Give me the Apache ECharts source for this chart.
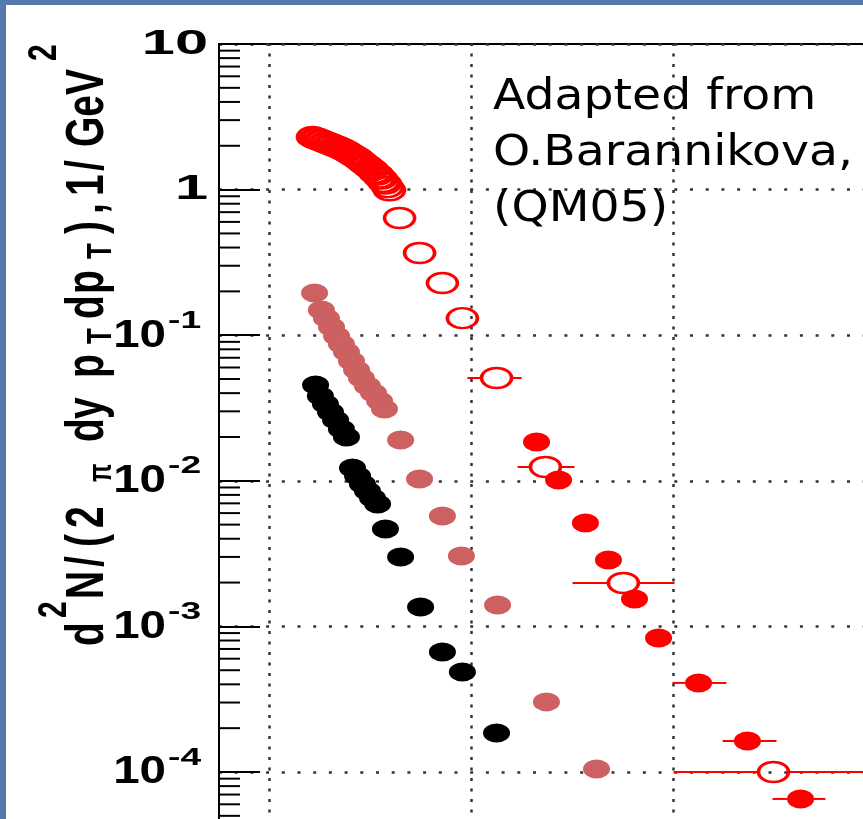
<!DOCTYPE html>
<html><head><meta charset="utf-8">
<script src="https://cdn.jsdelivr.net/npm/echarts@6/dist/echarts.min.js"></script>
<style>
html,body{margin:0;padding:0;width:863px;height:819px;overflow:hidden;background:#5479aa;}
#panel{position:absolute;left:6px;top:5px;width:857px;height:814px;background:#fff;overflow:hidden;}
#chart{position:absolute;left:0;top:0;width:1000px;height:1000px;}
</style></head><body>
<div id="panel"><div id="chart"></div></div>
<script>
// ---------------- data ----------------
const redOpen = [
  [1.213,2.30],[1.225,2.25],[1.238,2.24],[1.250,2.18],[1.262,2.17],[1.275,2.11],[1.287,2.10],
  [1.300,2.05],[1.312,2.03],[1.324,1.98],[1.337,1.97],[1.349,1.92],[1.361,1.90],[1.374,1.85],
  [1.386,1.82],[1.399,1.76],[1.411,1.73],[1.423,1.68],[1.436,1.65],[1.448,1.59],[1.460,1.55],
  [1.473,1.49],[1.485,1.46],[1.498,1.40],[1.510,1.37],[1.522,1.30],[1.535,1.27],[1.545,1.21],
  [1.554,1.19],[1.564,1.13],[1.574,1.10],[1.584,1.04],[1.594,0.99],
  [1.644,0.638],[1.743,0.367],[1.856,0.228],[1.955,0.131],[2.124,0.0508],[2.366,0.01244],
  [2.752,0.001986],[3.495,0.0001]
];
const redOpenXErr = [[37,1.980,2.248],[38,2.228,2.510],[39,2.500,3.005],[40,3.0,4.3]];
const redFilled = [
  [2.322,0.01847],[2.431,0.01013],[2.564,0.00513],[2.678,0.002858],[2.807,0.001543],
  [2.926,0.000832],[3.124,0.000409],[3.366,0.0001633],[3.629,0.0000653]
];
const redFilledXErr = [[6,2.995,3.262],[7,3.243,3.510],[8,3.490,3.752]];
const salmon = [
  [1.223,0.195],[1.257,0.149],[1.282,0.131],[1.307,0.1138],[1.332,0.0988],[1.356,0.0870],
  [1.381,0.0766],[1.406,0.0665],[1.431,0.0577],[1.455,0.0508],[1.485,0.0448],[1.515,0.0401],
  [1.545,0.0353],[1.569,0.0311],[1.649,0.01906],[1.743,0.01029],[1.856,0.00573],
  [1.950,0.003045],[2.129,0.001403],[2.371,0.000303],[2.619,0.0001048]
];
const black = [
  [1.228,0.0455],[1.252,0.0382],[1.277,0.0337],[1.302,0.0297],[1.327,0.0262],[1.356,0.0227],
  [1.381,0.0200],[1.411,0.01224],[1.436,0.01079],[1.460,0.00951],[1.485,0.00851],[1.510,0.00762],
  [1.535,0.00693],[1.574,0.00467],[1.649,0.002996],[1.748,0.001359],[1.856,0.000667],
  [1.955,0.000486],[2.124,0.0001853]
];
const xGridValues = [1, 2, 3, 4];
const yTickValues = [10, 1, 0.1, 0.01, 0.001, 0.0001];
const yTickBase = ['10', '1', '10', '10', '10', '10'];
const yTickExp = ['', '', '-1', '-2', '-3', '-4'];
const yTitleParts = ['d', '2', 'N', '/', '(', '2', 'π', 'd', 'y', 'p', 'T', 'd', 'p', 'T', ')', ',', '1', '/', 'GeV', '2'];
const annotation = 'Adapted from\nO.Barannikova,\n(QM05)';

// ---------------- layout / style ----------------
const OX = 6, OY = 5; // panel offset in the page
const X_MIN = 0.75, X_MAX = 4.5, Y_MIN = 1e-5, Y_MAX = 10;
const MINOR_LEN = 21;
const OPEN_HW = 16, FILLED_HW = 13;
const ELLIPSE = 'path://M0,50A50,50,0,1,1,100,50A50,50,0,1,1,0,50Z';
const FONT = 'Liberation Sans, Arial, Helvetica, sans-serif';
// title part layout: [page y where the part starts (bottom end), kind]
const yTitleLayout = [
  [646, 'b'], [618, 'sup1'], [599, 'b'], [567, 'b'], [547, 'b'], [528, 'b'], [482, 'pi'],
  [442, 'b'], [419, 'b'], [378, 'b'], [344, 'sub'], [319, 'b'], [294, 'b'], [259, 'sub'],
  [234, 'b'], [214, 'b'], [196, 'b'], [171, 'b'], [147, 'b'], [61, 'sup2']
];
const TITLE_STYLE = {
  b:    { size: 39, x: 88 },
  sup1: { size: 30, x: 55 },
  sup2: { size: 30, x: 45 },
  sub:  { size: 26, x: 101 },
  pi:   { size: 24, x: 102 }
};
const TITLE_SCALE = 1.36;

const minorVals = [];
for (let e = -5; e < 1; e++) for (let k = 2; k <= 9; k++) minorVals.push(+(k * Math.pow(10, e)).toPrecision(3));

function errData(pts, errs) { return errs.map(([i, lo, hi]) => [pts[i][0], pts[i][1], lo, hi]); }
function errRender(hw) {
  return function (params, api) {
    const y = api.value(1);
    const c = api.coord([api.value(0), y]);
    const l = api.coord([api.value(2), y]);
    const h = api.coord([api.value(3), y]);
    return { type: 'group', children: [
      { type: 'line', shape: { x1: l[0], y1: c[1], x2: c[0] - hw, y2: c[1] }, style: { stroke: '#ff0000', lineWidth: 2 } },
      { type: 'line', shape: { x1: c[0] + hw, y1: c[1], x2: h[0], y2: c[1] }, style: { stroke: '#ff0000', lineWidth: 2 } }
    ] };
  };
}

const chart = echarts.init(document.getElementById('chart'), null, { renderer: 'canvas' });
chart.setOption({
  animation: false,
  grid: { left: 213, top: 39, width: 757.5, height: 873.6, outerBoundsMode: 'none', containLabel: false,
          show: true, borderColor: '#000', borderWidth: 2, backgroundColor: '#fff' },
  xAxis: { type: 'value', min: X_MIN, max: X_MAX, axisLine: { show: false }, axisTick: { show: false }, axisLabel: { show: false }, splitLine: { show: false } },
  yAxis: {
    type: 'log', logBase: 10, min: Y_MIN, max: Y_MAX,
    axisLine: { show: true, lineStyle: { color: '#000', width: 2 } },
    axisTick: { show: true, inside: true, length: 41, lineStyle: { color: '#000', width: 2 } },
    axisLabel: { show: false },
    splitLine: { show: true, lineStyle: { color: '#333', width: 2.5, type: [3, 12.7] } }
  },
  series: [
    {
      type: 'custom', coordinateSystem: 'cartesian2d', silent: true, z: 3,
      data: minorVals.map(v => [X_MIN, v]),
      renderItem: function (params, api) {
        const p = api.coord([X_MIN, api.value(1)]);
        return { type: 'line', shape: { x1: p[0], y1: p[1], x2: p[0] + MINOR_LEN, y2: p[1] }, style: { stroke: '#000', lineWidth: 2 } };
      },
      markLine: {
        silent: true, symbol: ['none', 'none'], label: { show: false },
        lineStyle: { type: [3, 7.5], color: '#333', width: 2.5 },
        data: xGridValues.map(v => ({ xAxis: v }))
      }
    },
    { type: 'custom', coordinateSystem: 'cartesian2d', silent: true, z: 4, encode: { x: [0, 2, 3], y: 1 }, data: errData(redOpen, redOpenXErr), renderItem: errRender(OPEN_HW) },
    { type: 'custom', coordinateSystem: 'cartesian2d', silent: true, z: 4, encode: { x: [0, 2, 3], y: 1 }, data: errData(redFilled, redFilledXErr), renderItem: errRender(FILLED_HW) },
    { type: 'scatter', z: 5, data: black, symbol: ELLIPSE, symbolSize: [27, 19], itemStyle: { color: '#000', opacity: 1 } },
    { type: 'scatter', z: 5, data: salmon, symbol: ELLIPSE, symbolSize: [27, 19], itemStyle: { color: '#cd6060', opacity: 1 } },
    { type: 'scatter', z: 6, data: redOpen, symbol: ELLIPSE, symbolSize: [30, 20], itemStyle: { color: 'rgba(0,0,0,0)', borderColor: '#ff0000', borderWidth: 3, opacity: 1 } },
    { type: 'scatter', z: 7, data: redFilled, symbol: ELLIPSE, symbolSize: [27, 19], itemStyle: { color: '#ff0000', opacity: 1 } }
  ]
});

// ---------------- texts (tick labels positioned through the axis scale) ----------------
const graphics = [];
yTickValues.forEach((v, i) => {
  const y = chart.convertToPixel({ yAxisIndex: 0 }, v);
  if (!yTickExp[i]) {
    graphics.push({ type: 'text', x: 208 - OX, y: y, scaleX: 1.7, silent: true,
      style: { text: yTickBase[i], fill: '#000', font: 'bold 35px ' + FONT, textAlign: 'right', textVerticalAlign: 'middle' } });
  } else {
    graphics.push({ type: 'text', x: 166 - OX, y: y + 1, scaleX: 1.25, silent: true,
      style: { text: yTickBase[i], fill: '#000', font: 'bold 38px ' + FONT, textAlign: 'right', textVerticalAlign: 'middle' } });
    graphics.push({ type: 'text', x: 168 - OX, y: y - 14, scaleX: 1.55, silent: true,
      style: { text: yTickExp[i], fill: '#000', font: 'bold 24px ' + FONT, textAlign: 'left', textVerticalAlign: 'middle' } });
  }
});
yTitleParts.forEach((t, i) => {
  const [py, kind] = yTitleLayout[i];
  const st = TITLE_STYLE[kind];
  graphics.push({ type: 'text', x: st.x - OX, y: py - OY, rotation: Math.PI / 2, scaleY: TITLE_SCALE, silent: true,
    style: { text: t, fill: '#000', font: 'bold ' + st.size + 'px ' + FONT, textAlign: 'left', textVerticalAlign: 'middle' } });
});
graphics.push({
  type: 'text', x: 493 - OX, y: 154 - OY, scaleX: 1.1, silent: true,
  style: { text: annotation, fill: '#000', font: '43px DejaVu Sans, Verdana, sans-serif', lineHeight: 56, textAlign: 'left', textVerticalAlign: 'middle' }
});
chart.setOption({ graphic: graphics });
</script></body></html>
